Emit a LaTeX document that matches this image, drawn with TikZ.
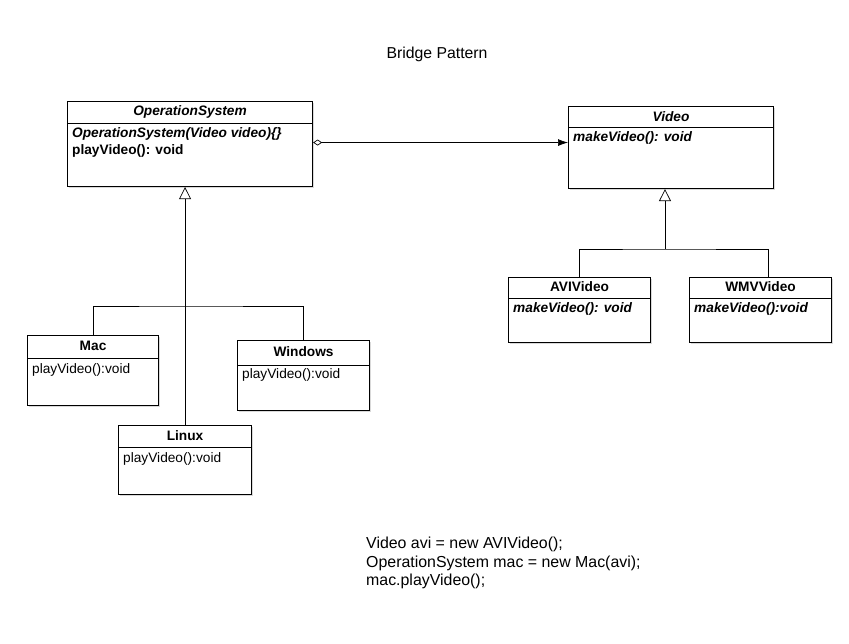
\documentclass[tikz,border=0pt]{standalone}
\usepackage{fontspec}
\setmainfont{Liberation Sans}
\usepackage{xcolor}
\usetikzlibrary{arrows.meta, shadows, positioning}
\tikzstyle{classbox} = [rectangle, anchor=north west, draw=black, line width=1.1pt, fill=white, drop shadow={shadow xshift=1.5pt, shadow yshift=-1.5pt, opacity=0.3}]
\tikzstyle{headtext} = [inner sep=0pt, font=\fontsize{13.7pt}{16pt}\selectfont\bfseries]
\tikzstyle{bodytext} = [inner sep=0pt, anchor=north west, align=left, font=\fontsize{13.7pt}{17.5pt}\selectfont]
\tikzstyle{line} = [line width=0.7pt]
\tikzstyle{inherit} = [line width=0.7pt, -{Triangle[open, length=12pt, width=12pt]}]
\tikzstyle{aggr} = [line width=0.7pt, {Diamond[open, length=9pt, width=6pt]}-{Latex[length=10pt, width=7pt]}]

\begin{document}
\begin{tikzpicture}[x=1pt, y=-1pt]
  \useasboundingbox (0,0) rectangle (849,644);

  % Title
  \node (title) [font=\fontsize{15.8pt}{18pt}\selectfont] at (437,54) {Bridge Pattern};

  % Abstraction side
  \node (os) [classbox, minimum width=245pt, minimum height=85pt] at (67,101) {};
  \node (osname) [headtext] at ([yshift=-11pt]os.north) {\itshape OperationSystem};
  \draw [line] ([yshift=-22pt]os.north west) -- ([yshift=-22pt]os.north east);
  \node (osbody) [bodytext] at ([xshift=5pt, yshift=-26pt]os.north west) {\bfseries\itshape OperationSystem(Video video)\{\}\\ \bfseries playVideo(): void};

  \node (mac) [classbox, minimum width=131pt, minimum height=70pt] at (27,335) {};
  \node (macname) [headtext] at ([yshift=-11pt]mac.north) {Mac};
  \draw [line] ([yshift=-23pt]mac.north west) -- ([yshift=-23pt]mac.north east);
  \node (macbody) [bodytext] at ([xshift=5pt, yshift=-28pt]mac.north west) {playVideo():void};

  \node (windows) [classbox, minimum width=132pt, minimum height=70pt] at (237,340) {};
  \node (windowsname) [headtext] at ([yshift=-12pt]windows.north) {Windows};
  \draw [line] ([yshift=-25pt]windows.north west) -- ([yshift=-25pt]windows.north east);
  \node (windowsbody) [bodytext] at ([xshift=5pt, yshift=-28pt]windows.north west) {playVideo():void};

  \node (linux) [classbox, minimum width=133pt, minimum height=69pt] at (118,425) {};
  \node (linuxname) [headtext] at ([yshift=-11pt]linux.north) {Linux};
  \draw [line] ([yshift=-22pt]linux.north west) -- ([yshift=-22pt]linux.north east);
  \node (linuxbody) [bodytext] at ([xshift=5pt, yshift=-27pt]linux.north west) {playVideo():void};

  % Implementor side
  \node (video) [classbox, minimum width=205pt, minimum height=82pt] at (568,106) {};
  \node (videoname) [headtext] at ([yshift=-11pt]video.north) {\itshape Video};
  \draw [line] ([yshift=-21pt]video.north west) -- ([yshift=-21pt]video.north east);
  \node (videobody) [bodytext] at ([xshift=5pt, yshift=-25pt]video.north west) {\bfseries\itshape makeVideo(): void};

  \node (avi) [classbox, minimum width=142pt, minimum height=65pt] at (508,277) {};
  \node (aviname) [headtext] at ([yshift=-10pt]avi.north) {AVIVideo};
  \draw [line] ([yshift=-21pt]avi.north west) -- ([yshift=-21pt]avi.north east);
  \node (avibody) [bodytext] at ([xshift=5pt, yshift=-25pt]avi.north west) {\bfseries\itshape makeVideo(): void};

  \node (wmv) [classbox, minimum width=142pt, minimum height=65pt] at (689,277) {};
  \node (wmvname) [headtext] at ([yshift=-10pt]wmv.north) {WMVVideo};
  \draw [line] ([yshift=-21pt]wmv.north west) -- ([yshift=-21pt]wmv.north east);
  \node (wmvbody) [bodytext] at ([xshift=5pt, yshift=-25pt]wmv.north west) {\bfseries\itshape makeVideo():void};

  % Client code
  \node (client) [bodytext, font=\fontsize{15.9pt}{18.5pt}\selectfont] at (366,537) {Video avi = new AVIVideo();\\ OperationSystem mac = new Mac(avi);\\ mac.playVideo();};

  % Bridge (aggregation)
  \draw [aggr] ([yshift=1.5pt]os.east) -- ([yshift=1.5pt]os.east -| video.west);

  % Inheritance of the abstraction
  \coordinate (osjoin) at (184,306);
  \draw [inherit] (linux.north) -- (linux.north |- os.south);
  \draw [line] (mac.north) |- (osjoin) -| (windows.north);

  % Inheritance of the implementor
  \coordinate (videojoin) at (665,249);
  \draw [inherit] (videojoin) -- (videojoin |- video.south);
  \draw [line] (avi.north) |- (videojoin) -| ([xshift=8pt]wmv.north);

\end{tikzpicture}
\end{document}
